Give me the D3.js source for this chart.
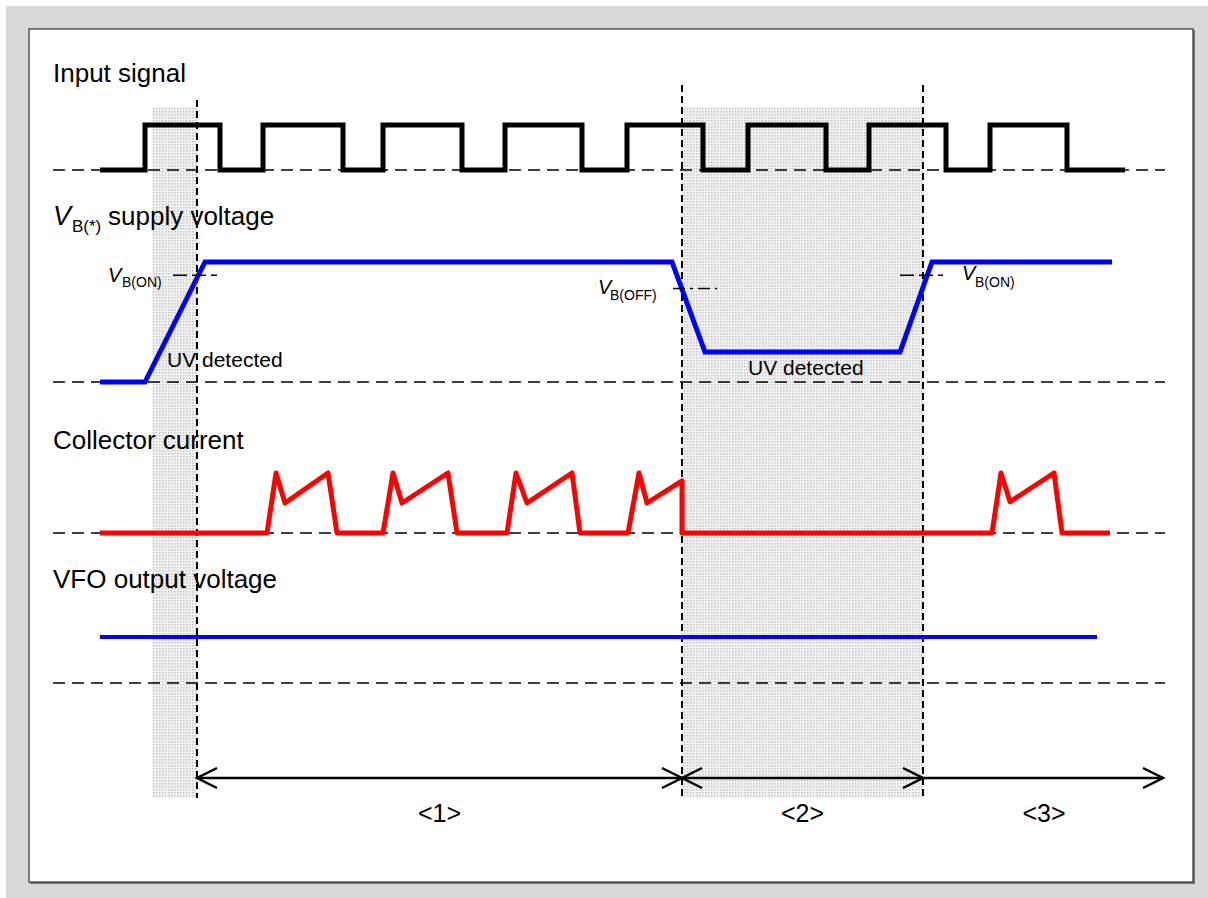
<!DOCTYPE html>
<meta charset="utf-8">
<style>

body, html {
  margin: 0;
  padding: 0;
  background: #fff;
}

text {
  font-family: "Liberation Sans", Arial, sans-serif;
  fill: #000;
}

.wave {
  fill: none;
  stroke-width: 5px;
}

.base {
  stroke: #000;
  stroke-width: 1.5px;
  stroke-dasharray: 12 7;
}

.marker {
  stroke: #000;
  stroke-width: 2px;
  stroke-dasharray: 7 4;
}

</style>
<svg></svg>
<script src="https://d3js.org/d3.v7.min.js"></script>
<script>

// time in arbitrary units, levels 0..1 of each trace
var inputT = [0, 45, 120, 163, 243, 283, 362, 405, 482, 527, 603, 648, 726, 769, 846, 890, 967, 1025];
var inputV = [0, 1, 0, 1, 0, 1, 0, 1, 0, 1, 0, 1, 0, 1, 0, 1, 0, 0];

var supplyT = [0, 45, 105, 572, 605, 800, 832, 1012];
var supplyV = [0, 0, 1, 1, 0.25, 0.25, 1, 1];

var collectorT = [0, 167, 176, 185, 228, 237, 283, 293, 302, 348, 357, 407, 416, 427, 472, 480,
  528, 539, 547, 582, 582, 892, 901, 910, 954, 962, 1010];
var collectorV = [0, 0, 1, 0.5, 1, 0, 0, 1, 0.5, 1, 0, 0, 1, 0.5, 1, 0,
  0, 1, 0.5, 0.87, 0, 0, 1, 0.52, 1, 0, 0];

var vfoT = [0, 997];
var vfoV = [1, 1];

var vbOn = 0.89;
var vbOff = 0.78;

var uvWindows = [[52, 97], [582, 823]];
var markers = [97, 582, 823];
var periodEdges = [97, 582, 823, 1063];
var periodLabels = ['<1>', '<2>', '<3>'];

var laneTitles = ['Input signal', 'supply voltage', 'Collector current', 'VFO output voltage'];

// layout
var W = 1208, H = 898;
var lanes = [
  { base: 170, top: 125, title: 82 },
  { base: 382, top: 262, title: 225 },
  { base: 533, top: 473, title: 449 },
  { base: 683, top: 637, title: 588 }
];

var svg = d3.select('svg')
  .attr('width', W)
  .attr('height', H);

var x = d3.scaleLinear().domain([-47, 1065]).range([53, 1165]);
var ys = lanes.map(function (l) { return d3.scaleLinear().domain([0, 1]).range([l.base, l.top]); });

// frame
svg.append('rect').attr('x', 6).attr('y', 6).attr('width', W - 6).attr('height', H - 6).attr('fill', '#d9d9d9');
svg.append('rect').attr('x', 30).attr('y', 30).attr('width', 1165).attr('height', 854).attr('fill', '#7a7a7a');
svg.append('rect').attr('x', 29).attr('y', 29).attr('width', 1164).attr('height', 853)
  .attr('fill', '#fff').attr('stroke', '#333').attr('stroke-width', 1.2);

// dotted shading
var defs = svg.append('defs');
var pat = defs.append('pattern').attr('id', 'dots')
  .attr('patternUnits', 'userSpaceOnUse').attr('width', 3).attr('height', 3);
pat.append('rect').attr('width', 3).attr('height', 3).attr('fill', '#f3f3f3');
pat.append('rect').attr('width', 1.5).attr('height', 1.5).attr('fill', '#c6c6c6');

svg.append('g').selectAll('rect')
  .data(uvWindows)
  .enter().append('rect')
  .attr('x', function (d) { return x(d[0]); })
  .attr('y', 107)
  .attr('width', function (d) { return x(d[1]) - x(d[0]); })
  .attr('height', 798 - 107)
  .attr('fill', 'url(#dots)');

// dashed zero lines
svg.append('g').selectAll('line')
  .data(lanes)
  .enter().append('line')
  .attr('class', 'base')
  .attr('x1', x.range()[0]).attr('x2', x.range()[1])
  .attr('y1', function (d) { return d.base; })
  .attr('y2', function (d) { return d.base; });

// vertical markers
svg.append('g').selectAll('line')
  .data(markers)
  .enter().append('line')
  .attr('class', 'marker')
  .attr('x1', function (d) { return x(d); })
  .attr('x2', function (d) { return x(d); })
  .attr('y1', function (d, i) { return i === 0 ? 100 : 85; })
  .attr('y2', 798);

// traces
function trace(T, V, lane, color, curve) {
  var pts = T.map(function (t, i) { return [t, V[i]]; });
  var line = d3.line()
    .x(function (d) { return x(d[0]); })
    .y(function (d) { return ys[lane](d[1]); })
    .curve(curve || d3.curveLinear);
  return svg.append('path')
    .datum(pts)
    .attr('class', 'wave')
    .attr('d', line)
    .attr('stroke', color);
}

trace(inputT, inputV, 0, '#000', d3.curveStepAfter).attr('stroke-linejoin', 'miter');
trace(supplyT, supplyV, 1, '#0000ff').attr('stroke-linejoin', 'miter');
trace(collectorT, collectorV, 2, '#ff0000').attr('stroke-linejoin', 'round');
trace(vfoT, vfoV, 3, '#0000ff').style('stroke-width', '4px');

// threshold ticks on supply trace
var thresholds = [
  { level: vbOn, t0: 73, t1: 117, sub: 'B(ON)', vx: -65, vy: 7, sx: -51, sy: 12, dash: '14 5' },
  { level: vbOff, t0: 573, t1: 617, sub: 'B(OFF)', vx: -75, vy: 6, sx: -63, sy: 12, dash: '12 5 3 5' },
  { level: vbOn, t0: 800, t1: 843, sub: 'B(ON)', vx: 62, vy: 5, sx: 75, sy: 12, dash: '14 5' }
];

var th = svg.append('g').selectAll('g')
  .data(thresholds)
  .enter().append('g');

th.append('line')
  .attr('x1', function (d) { return x(d.t0); })
  .attr('x2', function (d) { return x(d.t1); })
  .attr('y1', function (d) { return ys[1](d.level); })
  .attr('y2', function (d) { return ys[1](d.level); })
  .attr('stroke', '#000')
  .attr('stroke-width', 1.5)
  .attr('stroke-dasharray', function (d) { return d.dash; });

th.append('text')
  .attr('x', function (d) { return x(d.t0) + d.vx; })
  .attr('y', function (d) { return ys[1](d.level) + d.vy; })
  .attr('font-size', 20)
  .attr('font-style', 'italic')
  .text('V');

th.append('text')
  .attr('x', function (d) { return x(d.t0) + d.sx; })
  .attr('y', function (d) { return ys[1](d.level) + d.sy; })
  .attr('font-size', 14)
  .text(function (d) { return d.sub; });

// UV detected labels
svg.append('text').attr('x', 167).attr('y', 367).attr('font-size', 21).text('UV detected');
svg.append('text').attr('x', 748).attr('y', 375).attr('font-size', 21).text('UV detected');

// lane titles
svg.append('text').attr('x', 53).attr('y', lanes[0].title).attr('font-size', 26).text(laneTitles[0]);
svg.append('text').attr('x', 53).attr('y', lanes[1].title).attr('font-size', 27).attr('font-style', 'italic').text('V');
svg.append('text').attr('x', 72).attr('y', lanes[1].title + 7).attr('font-size', 17).text('B(*)');
svg.append('text').attr('x', 108).attr('y', lanes[1].title).attr('font-size', 26).text(laneTitles[1]);
svg.append('text').attr('x', 53).attr('y', lanes[2].title).attr('font-size', 26).text(laneTitles[2]);
svg.append('text').attr('x', 53).attr('y', lanes[3].title).attr('font-size', 26).text(laneTitles[3]);

// period arrows
var arrowY = 778;
var periods = periodLabels.map(function (l, i) {
  return { label: l, a: periodEdges[i], b: periodEdges[i + 1], left: i < 2 };
});

var pg = svg.append('g').selectAll('g')
  .data(periods)
  .enter().append('g')
  .attr('stroke', '#000')
  .attr('stroke-width', 2.5)
  .attr('fill', 'none');

pg.append('line')
  .attr('x1', function (d) { return x(d.a); })
  .attr('x2', function (d) { return x(d.b); })
  .attr('y1', arrowY).attr('y2', arrowY);

pg.append('path')
  .attr('d', function (d) {
    var e = x(d.b);
    return 'M' + (e - 20) + ',' + (arrowY - 10) + 'L' + e + ',' + arrowY + 'L' + (e - 20) + ',' + (arrowY + 10);
  });

pg.filter(function (d) { return d.left; }).append('path')
  .attr('d', function (d) {
    var s = x(d.a);
    return 'M' + (s + 20) + ',' + (arrowY - 10) + 'L' + s + ',' + arrowY + 'L' + (s + 20) + ',' + (arrowY + 10);
  });

svg.append('g').selectAll('text')
  .data(periods)
  .enter().append('text')
  .attr('x', function (d, i) { return i === 2 ? x(d.a) + 121 : (x(d.a) + x(d.b)) / 2; })
  .attr('y', 822)
  .attr('text-anchor', 'middle')
  .attr('font-size', 25)
  .text(function (d) { return d.label; });

</script>
